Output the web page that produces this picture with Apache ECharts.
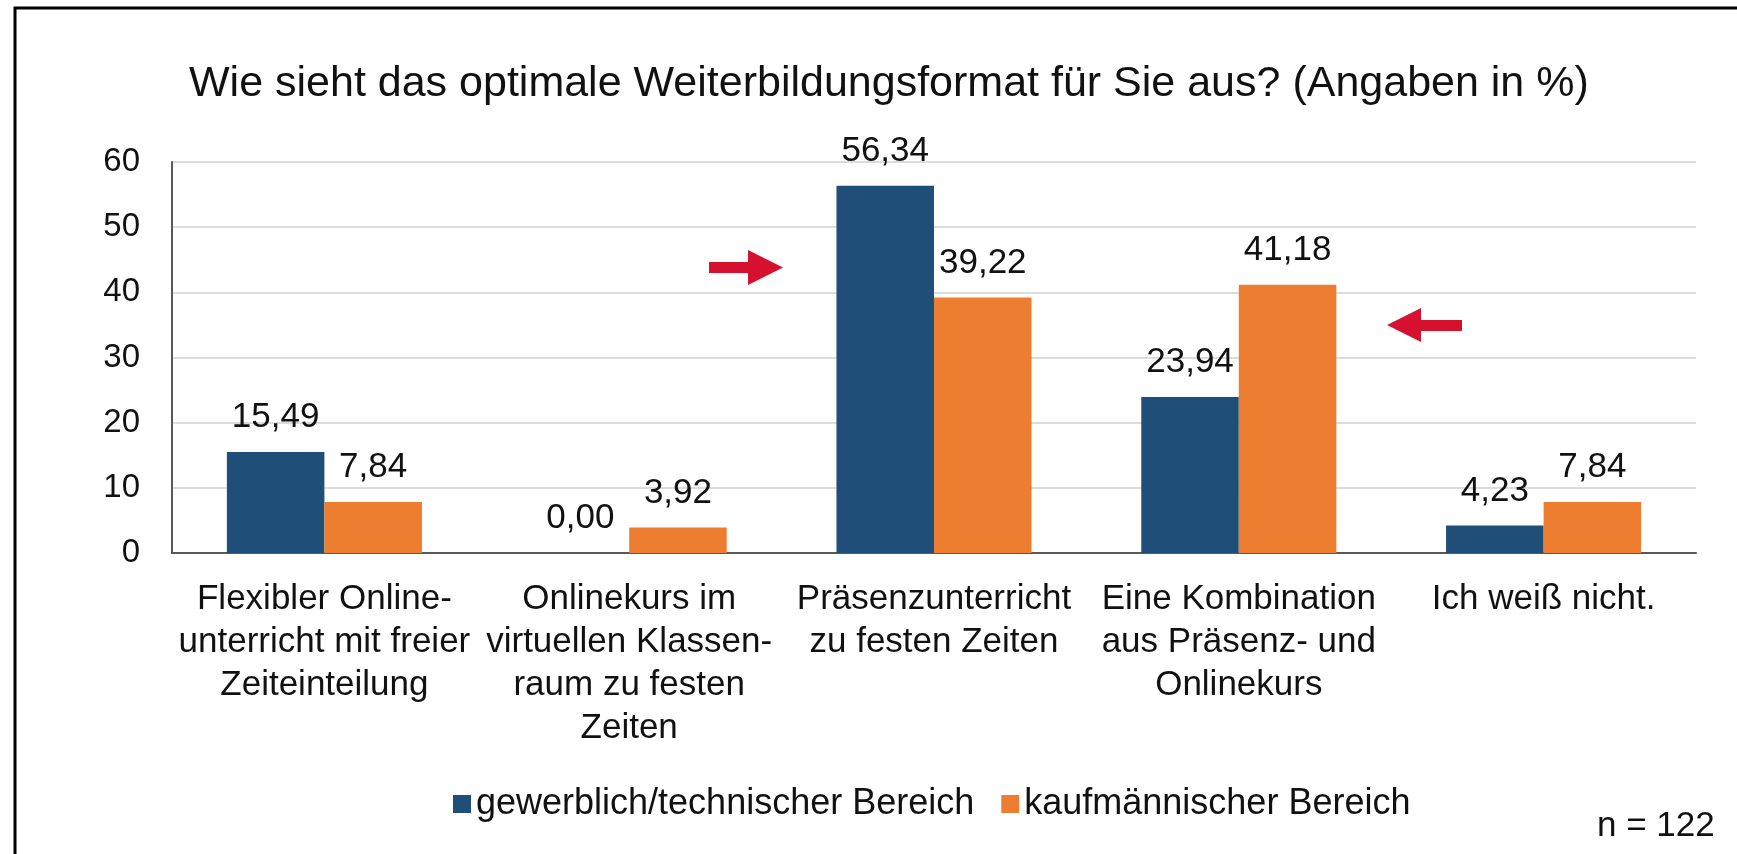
<!DOCTYPE html>
<html>
<head>
<meta charset="utf-8">
<script src="https://cdn.jsdelivr.net/npm/echarts@6/dist/echarts.min.js"></script>
<style>
html,body{margin:0;padding:0;background:#fff;}
#chart{width:1737px;height:854px;}
</style>
</head>
<body>
<div id="chart"></div>
<script>
const titleText = 'Wie sieht das optimale Weiterbildungsformat für Sie aus? (Angaben in %)';
const categories = [
  'Flexibler Online-\nunterricht mit freier\nZeiteinteilung',
  'Onlinekurs im\nvirtuellen Klassen-\nraum zu festen\nZeiten',
  'Präsenzunterricht\nzu festen Zeiten',
  'Eine Kombination\naus Präsenz- und\nOnlinekurs',
  'Ich weiß nicht.'
];
const seriesNames = ['gewerblich/technischer Bereich', 'kaufmännischer Bereich'];
const gewerblich = [15.49, 0.00, 56.34, 23.94, 4.23];
const kaufmaennisch = [7.84, 3.92, 39.22, 41.18, 7.84];
const yTicks = [0, 10, 20, 30, 40, 50, 60];
const noteText = 'n = 122';

const FONT = '"Liberation Sans", Arial, sans-serif';
const fmt = v => v.toFixed(2).replace('.', ',');
const chart = echarts.init(document.getElementById('chart'), null, {renderer: 'canvas'});

const labelCfg = {
  show: true, position: 'top', distance: 17,
  formatter: p => fmt(p.value),
  fontFamily: FONT, fontSize: 35, color: '#111'
};

chart.setOption({
  animation: false,
  backgroundColor: '#fff',
  title: {
    text: titleText, left: 184, top: 58,
    textStyle: {fontFamily: FONT, fontSize: 43, fontWeight: 'normal', color: '#111'}
  },
  legend: {
    data: seriesNames, left: 448, top: 781,
    itemWidth: 18, itemHeight: 18, itemGap: 27, icon: 'rect',
    textStyle: {fontFamily: FONT, fontSize: 36, color: '#111'}
  },
  grid: {left: 172, right: 41, top: 162, bottom: 301, containLabel: false},
  xAxis: {
    type: 'category', data: categories,
    axisLine: {show: true, lineStyle: {color: '#595959', width: 2}},
    axisTick: {show: false},
    axisLabel: {interval: 0, margin: 25, fontFamily: FONT, fontSize: 35, lineHeight: 43, color: '#111', align: 'center'}
  },
  yAxis: {
    type: 'value', min: yTicks[0], max: yTicks[yTicks.length - 1], interval: 10,
    axisLine: {show: true, lineStyle: {color: '#595959', width: 2}},
    axisTick: {show: false},
    axisLabel: {margin: 32, fontFamily: FONT, fontSize: 33, color: '#111'},
    splitLine: {show: true, lineStyle: {color: '#dcdcdc', width: 2}}
  },
  series: [
    {name: seriesNames[0], type: 'bar', data: gewerblich, barGap: '0%', barCategoryGap: '36%',
     itemStyle: {color: '#1f4e79'}, label: labelCfg},
    {name: seriesNames[1], type: 'bar', data: kaufmaennisch, barGap: '0%', barCategoryGap: '36%',
     itemStyle: {color: '#ed7d31'}, label: labelCfg}
  ],
  graphic: [
    {type: 'rect', shape: {x: 15, y: 8, width: 1800, height: 1000}, style: {fill: 'none', stroke: '#000', lineWidth: 3}, silent: true},
    {type: 'polygon', shape: {points: [[709,262],[748,262],[748,250],[783,267.5],[748,285],[748,273],[709,273]]}, style: {fill: '#d6112f'}},
    {type: 'polygon', shape: {points: [[1462,320],[1421,320],[1421,308],[1387,325],[1421,342],[1421,331],[1462,331]]}, style: {fill: '#d6112f'}},
    {type: 'text', x: 1597, y: 826, style: {text: noteText, fontFamily: FONT, fontSize: 35, fill: '#111', verticalAlign: 'middle'}}
  ]
});
</script>
</body>
</html>
